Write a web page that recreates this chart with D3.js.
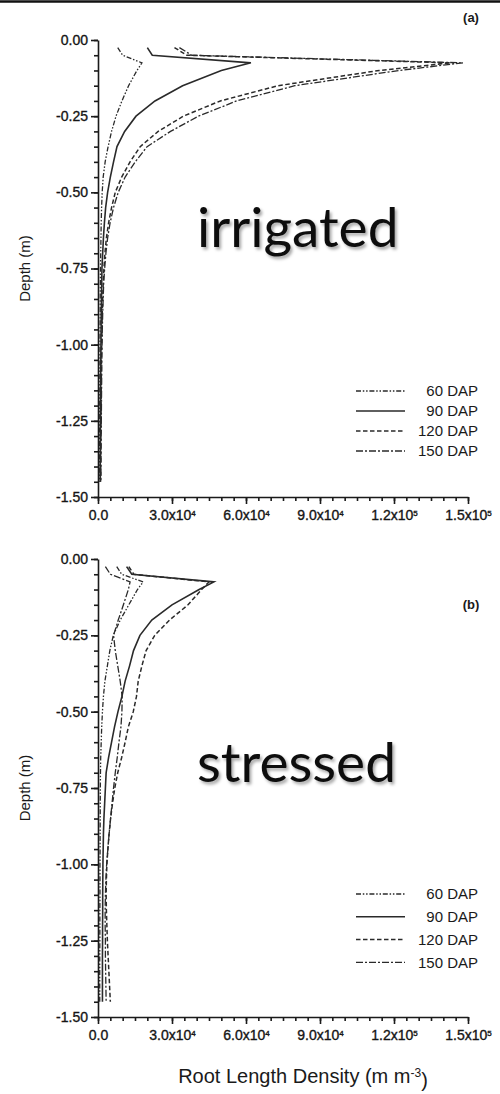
<!DOCTYPE html>
<html>
<head>
<meta charset="utf-8">
<script src="https://cdn.jsdelivr.net/npm/d3@7"></script>
<style>
  body { margin: 0; background: #fff; }
  svg { display: block; }
</style>
</head>
<body>
<svg id="chart" width="500" height="1094"></svg>
<script>
// Sampling depths (m), shared by every profile
const depths = [-0.025, -0.05, -0.075, -0.1, -0.15, -0.2, -0.25, -0.3, -0.35, -0.4, -0.45,
  -0.5, -0.55, -0.6, -0.65, -0.7, -0.75, -0.8, -0.85, -0.9, -0.95, -1.0, -1.05, -1.1,
  -1.15, -1.2, -1.25, -1.3, -1.35, -1.4, -1.45];

// Root length density (m m-3), irrigated treatment
const irrigated60 = [8000, 10000, 17800, 15800, 12400, 9700, 7300, 5500, 4100, 2900, 2100,
  1700, 1450, 1300, 1200, 1100, 1000, 950, 900, 900, 850, 800, 800, 750, 750, 700, 700, 650, 650, 600, 600];
const irrigated90 = [20000, 22000, 62000, 50000, 34300, 23100, 15400, 10800, 7700, 6300, 5000,
  3900, 3100, 2600, 2200, 1900, 1600, 1500, 1400, 1300, 1250, 1200, 1150, 1100, 1050, 1000, 1000, 950, 950, 900, 900];
const irrigated120 = [31000, 36000, 143000, 114000, 73000, 49600, 34600, 24400, 17100, 13000, 9600,
  7000, 5500, 4300, 3400, 2800, 2400, 2100, 1900, 1700, 1600, 1500, 1400, 1350, 1300, 1250, 1200, 1150, 1100, 1100, 1050];
const irrigated150 = [33000, 38000, 148000, 122000, 79800, 56200, 40700, 29400, 19900, 15100, 11000,
  8200, 6300, 4900, 3900, 3200, 2700, 2300, 2100, 1900, 1750, 1650, 1550, 1500, 1450, 1400, 1350, 1300, 1250, 1200, 1200];

// Root length density (m m-3), stressed treatment
const stressed60 = [7600, 9600, 18300, 16000, 12500, 9000, 6200, 4800, 3800, 2800, 2200,
  1800, 1500, 1300, 1100, 1000, 950, 900, 900, 850, 850, 800, 800, 800, 750, 750, 750, 700, 700, 700, 700];
const stressed90 = [11600, 13700, 47000, 41000, 30000, 21800, 17000, 14400, 12800, 11000, 9700,
  8100, 6700, 5500, 4300, 3300, 3000, 2700, 2400, 2200, 2100, 2000, 1950, 1900, 1900, 1850, 1850, 1800, 1800, 1800, 1800];
const stressed120 = [12500, 14500, 45000, 42000, 36500, 29000, 23000, 19500, 17800, 16300, 15600,
  14300, 12300, 11000, 9600, 8000, 6800, 5900, 5100, 4500, 4000, 3600, 3400, 3300, 3400, 3600, 3800, 4100, 4400, 4700, 5000];
const stressed150 = [3000, 5000, 13000, 12300, 10300, 8200, 6300, 7000, 8000, 9000, 9800,
  9700, 9300, 8500, 7800, 7000, 6300, 5700, 5100, 4500, 4000, 3500, 3200, 3000, 2900, 2900, 3000, 3000, 3100, 3200, 3300];

const seriesNames = ["60 DAP", "90 DAP", "120 DAP", "150 DAP"];

// Axis ticks
const xTicks = [0, 30000, 60000, 90000, 120000, 150000];
const xTickMantissa = ["0.0", "3.0x10", "6.0x10", "9.0x10", "1.2x10", "1.5x10"];
const xTickExponent = ["", "4", "4", "4", "5", "5"];
const yTicks = [0, -0.25, -0.5, -0.75, -1.0, -1.25, -1.5];

// Line patterns per growth stage
const dashPatterns = ["5,1.8,1.5,1.8,1.5,1.8", null, "4.5,2.5", "7,2,2,2"];
const strokeWidths = [1.3, 1.6, 1.5, 1.3];
const inkColor = "#2a2a2a";
const axisFont = "'Liberation Sans', Arial, Helvetica, sans-serif";

const svg = d3.select("#chart");

// Soft shadow behind the treatment words
const defs = svg.append("defs");
const shadow = defs.append("filter").attr("id", "wordShadow")
  .attr("x", "-10%").attr("y", "-20%").attr("width", "130%").attr("height", "150%");
shadow.append("feDropShadow").attr("dx", 2).attr("dy", 2.5).attr("stdDeviation", 1.6)
  .attr("flood-color", "#000").attr("flood-opacity", 0.35);

// Rule across the top of the figure
svg.append("line").attr("x1", 0).attr("x2", 500).attr("y1", 1.5).attr("y2", 1.5)
  .attr("stroke", "#111").attr("stroke-width", 2.5);

const x = d3.scaleLinear().domain([0, 150000]).range([98, 468]);

const panels = [
  { tag: "(a)", tagY: 22, word: "irrigated", wordY: 247, top: 40, bottom: 497,
    series: [irrigated60, irrigated90, irrigated120, irrigated150], legendTop: 391, legendStep: 20 },
  { tag: "(b)", tagY: 609, word: "stressed", wordY: 782, top: 559, bottom: 1017,
    series: [stressed60, stressed90, stressed120, stressed150], legendTop: 894, legendStep: 22.8 }
];

panels.forEach(p => {
  const y = d3.scaleLinear().domain([0, -1.5]).range([p.top, p.bottom]);
  const g = svg.append("g");

  // Minor ticks
  g.append("g").attr("transform", `translate(${x(0)},0)`)
    .call(d3.axisLeft(y).tickValues(d3.range(0, -1.5001, -0.05)).tickSize(4).tickSizeOuter(0).tickFormat(""))
    .call(a => a.select(".domain").remove());
  g.append("g").attr("transform", `translate(0,${y(-1.5)})`)
    .call(d3.axisBottom(x).tickValues(d3.range(0, 150001, 5000)).tickSize(4).tickSizeOuter(0).tickFormat(""))
    .call(a => a.select(".domain").remove());

  // Major axes
  g.append("g").attr("transform", `translate(${x(0)},0)`)
    .call(d3.axisLeft(y).tickValues(yTicks).tickSize(7).tickSizeOuter(0).tickPadding(3)
      .tickFormat(d => d.toFixed(2)));
  const xAxis = g.append("g").attr("transform", `translate(0,${y(-1.5)})`)
    .call(d3.axisBottom(x).tickValues(xTicks).tickSize(7).tickSizeOuter(0).tickPadding(6).tickFormat(""));

  xAxis.selectAll(".tick text").each(function (d) {
    const i = xTicks.indexOf(d);
    const t = d3.select(this);
    t.append("tspan").text(xTickMantissa[i]);
    if (xTickExponent[i]) {
      t.append("tspan").attr("dy", "-0.55em").attr("font-size", "8px").text(xTickExponent[i]);
    }
  });

  g.selectAll(".domain, .tick line").attr("stroke", "#1a1a1a").attr("stroke-width", 1.6);
  g.selectAll(".tick text").attr("font-family", axisFont).attr("font-size", 14)
    .attr("fill", "#151515").attr("stroke", "#151515").attr("stroke-width", 0.35);

  // Depth profiles
  const line = d3.line().x(d => x(d[0])).y(d => y(d[1]));
  p.series.forEach((vals, k) => {
    g.append("path")
      .datum(vals.map((v, j) => [v, depths[j]]))
      .attr("d", line)
      .attr("fill", "none")
      .attr("stroke", inkColor)
      .attr("stroke-width", strokeWidths[k])
      .attr("stroke-dasharray", dashPatterns[k]);
  });

  // Legend
  seriesNames.forEach((name, k) => {
    const ly = p.legendTop + k * p.legendStep;
    g.append("line").attr("x1", 356).attr("x2", 405).attr("y1", ly).attr("y2", ly)
      .attr("stroke", inkColor).attr("stroke-width", strokeWidths[k])
      .attr("stroke-dasharray", dashPatterns[k]);
    g.append("text").attr("x", 478).attr("y", ly).attr("dy", "0.36em")
      .attr("text-anchor", "end").attr("font-family", axisFont).attr("font-size", 15)
      .attr("fill", "#1a1a1a").text(name);
  });

  // Y axis title
  g.append("text")
    .attr("transform", `translate(25,${(p.top + p.bottom) / 2}) rotate(-90)`)
    .attr("text-anchor", "middle").attr("dy", "0.35em")
    .attr("font-family", axisFont).attr("font-size", 15).attr("fill", "#1a1a1a")
    .text("Depth (m)");

  // Panel tag
  g.append("text").attr("x", 471).attr("y", p.tagY).attr("text-anchor", "middle")
    .attr("font-family", axisFont).attr("font-size", 13).attr("font-weight", "bold")
    .attr("fill", "#1a1a1a").text(p.tag);

  // Treatment word
  g.append("text").attr("x", 197).attr("y", p.wordY)
    .attr("font-family", "Lato, 'Open Sans', sans-serif").attr("font-size", 55)
    .attr("fill", "#111").attr("filter", "url(#wordShadow)")
    .text(p.word);
});

// X axis title
const xt = svg.append("text").attr("x", 303).attr("y", 1083).attr("text-anchor", "middle")
  .attr("font-family", axisFont).attr("font-size", 20).attr("fill", "#1a1a1a");
xt.append("tspan").text("Root Length Density (m m");
xt.append("tspan").attr("dy", "-0.5em").attr("font-size", "12px").text("-3");
xt.append("tspan").attr("dy", "0.5em").text(")");
</script>
</body>
</html>
